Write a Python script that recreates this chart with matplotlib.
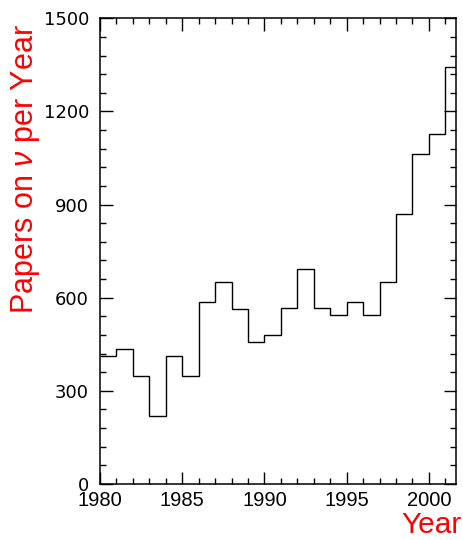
import matplotlib
matplotlib.use("Agg")
import matplotlib.pyplot as plt
from matplotlib.ticker import MultipleLocator, FixedLocator
import numpy as np

# Data (papers on neutrinos per year)
years = list(range(1980, 2002))
papers = [412, 434, 348, 219, 412, 348, 585, 652, 564, 456, 479,
          566, 693, 566, 543, 586, 543, 651, 869, 1063, 1127, 1344]
xticks = [1980, 1985, 1990, 1995, 2000]
yticks = [0, 300, 600, 900, 1200, 1500]

plt.rcParams['mathtext.fontset'] = 'custom'
plt.rcParams['mathtext.rm'] = 'Liberation Sans'
plt.rcParams['mathtext.it'] = 'Liberation Sans:italic'

W, H = 463, 540
fig = plt.figure(figsize=(W / 100, H / 100), dpi=100)
L, R, T, B = 100, 456, 18.3, 484
ax = fig.add_axes([L / W, 1 - B / H, (R - L) / W, (B - T) / H])

edges = years + [years[-1] + 1]
ax.stairs(papers, edges, color='black', linewidth=1.0, baseline=None)

ax.set_xlim(1980, 2001.65)
ax.set_ylim(0, 1500)
ax.xaxis.set_major_locator(FixedLocator(xticks))
ax.xaxis.set_minor_locator(MultipleLocator(1))
ax.yaxis.set_major_locator(FixedLocator(yticks))
ax.yaxis.set_minor_locator(MultipleLocator(60))

for s in ax.spines.values():
    s.set_linewidth(1.1)

ax.tick_params(which='both', direction='in', top=True, right=True, width=1.0, color='black')
ax.tick_params(which='major', length=9)
ax.tick_params(which='minor', length=4.5)
ax.tick_params(axis='x', which='major', labelsize=14.5, pad=5)
ax.tick_params(axis='y', which='major', labelsize=13, pad=8)
for lab in ax.get_xticklabels():
    lab.set_family('Liberation Sans')
for lab in ax.get_yticklabels():
    lab.set_family('DejaVu Sans')

fig.text(26 / W, 1 - 24 / H, r'Papers on $\nu$ per Year', rotation=90,
         ha='center', va='top', color='#ff0000', fontsize=22, family='Liberation Sans')
fig.text(462 / W, 1 - 511 / H, 'Year', ha='right', va='top',
         color='#ff0000', fontsize=21.5, family='Liberation Sans')

fig.savefig('out.png', dpi=100, facecolor='white')
